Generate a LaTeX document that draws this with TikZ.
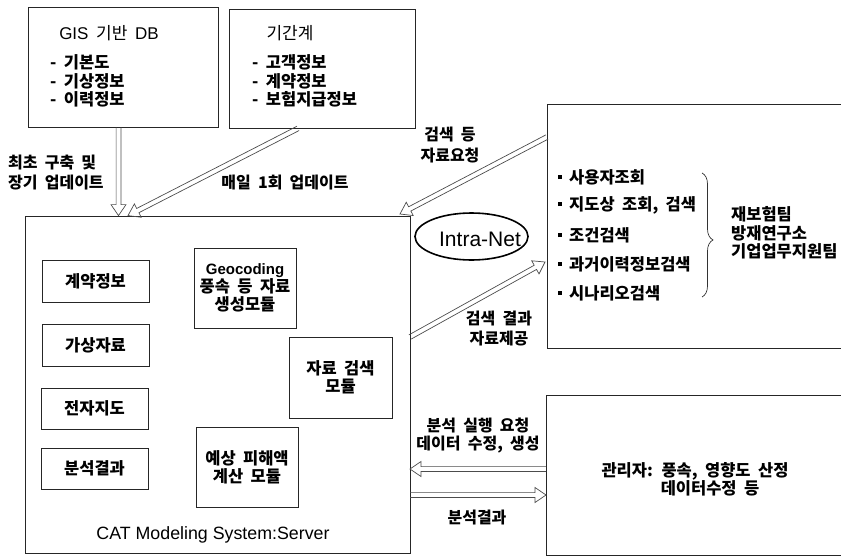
\documentclass[tikz,border=0pt]{standalone}
\usepackage{fontspec}
\setmainfont{Noto Sans CJK KR}
\newfontfamily\ar{Liberation Sans}
\usetikzlibrary{arrows.meta,shapes.geometric,decorations.pathreplacing,calc}
\newcommand{\widesp}{\spaceskip=0.45em plus 0.1em\relax}
\tikzset{
  box/.style={draw=black!85, line width=0.8pt, rectangle, inner sep=0pt},
  kt/.style={font=\fontsize{16.5}{18}\selectfont\bfseries, align=center, inner sep=0pt, execute at begin node=\widesp},
  kr/.style={font=\fontsize{17}{18}\selectfont, align=center, inner sep=0pt, execute at begin node=\widesp},
  lbl/.style={font=\fontsize{16}{20}\selectfont\bfseries, align=center, inner sep=0pt, execute at begin node=\widesp},
  arrline/.style={draw=black!70, line width=0.7pt, line join=miter},
  bul/.style={kt, anchor=west}
}
% hollow double-line arrow from #1 to #2
\newcommand{\dblarr}[2]{%
  \coordinate (dA) at (#1);
  \coordinate (dB) at (#2);
  \coordinate (dH) at ($(dB)!11pt!(dA)$);
  \draw[arrline] ($(dA)!2.4pt!90:(dB)$) -- ($(dH)!2.4pt!-90:(dA)$) -- ($(dH)!7.5pt!-90:(dA)$) -- (dB)
     -- ($(dH)!7.5pt!90:(dA)$) -- ($(dH)!2.4pt!90:(dA)$) -- ($(dA)!2.4pt!-90:(dB)$);
}
\newcommand{\sqb}{\rule[4pt]{4pt}{4pt}\hspace{7pt}}
\begin{document}
\begin{tikzpicture}[x=1pt,y=-1pt]
\useasboundingbox (0,0) rectangle (841,557);
% top boxes
\node[box, minimum width=190pt, minimum height=120pt] (gis) at (123,67) {};
\node[kr] (gist) at (109,33) {{\ar GIS} 기반 {\ar DB}};
\node[kt, anchor=west] (g1) at (50,62) {- 기본도};
\node[kt, anchor=west] (g2) at (50,81) {- 기상정보};
\node[kt, anchor=west] (g3) at (50,99) {- 이력정보};
\node[box, minimum width=186pt, minimum height=119pt] (kig) at (322,68.5) {};
\node[kr] (kigt) at (290,33) {기간계};
\node[kt, anchor=west] (k1) at (252,62) {- 고객정보};
\node[kt, anchor=west] (k2) at (252,81) {- 계약정보};
\node[kt, anchor=west] (k3) at (252,99) {- 보험지급정보};
% server
\node[box, minimum width=385pt, minimum height=337pt] (server) at (217.5,384.5) {};
\node[font=\ar\fontsize{17.8}{20}\selectfont, inner sep=0pt] (srvl) at (213,535) {CAT Modeling System:Server};
\node[box, kt, minimum width=107pt, minimum height=42pt] (c1) at (95.5,281) {계약정보};
\node[box, kt, minimum width=107pt, minimum height=42pt] (c2) at (95.5,345) {가상자료};
\node[box, kt, minimum width=107pt, minimum height=41pt] (c3) at (94.5,408.5) {전자지도};
\node[box, kt, minimum width=107pt, minimum height=41pt] (c4) at (94.5,468.5) {분석결과};
\node[box, kt, minimum width=102pt, minimum height=80pt] (geo) at (245,288) {{\ar\fontsize{15}{18}\selectfont Geocoding}\\풍속 등 자료\\생성모듈};
\node[box, kt, minimum width=103pt, minimum height=81pt] (srch) at (340.5,377.5) {자료 검색\\모듈};
\node[box, kt, minimum width=102pt, minimum height=80pt] (dmg) at (247,467) {예상 피해액\\계산 모듈};
% intranet
\node[draw=black, line width=1.6pt, ellipse, minimum width=113pt, minimum height=47pt, inner sep=0pt] (net) at (471.5,236.5) {};
\node[font=\ar\fontsize{21}{24}\selectfont, inner sep=0pt] (nett) at (480,239) {Intra-Net};
% right boxes (open to the right)
\coordinate (rt1) at (845,104);
\coordinate (rt2) at (547,104);
\coordinate (rt3) at (547,348);
\coordinate (rt4) at (845,348);
\draw[draw=black!85, line width=0.8pt] (rt1) -- (rt2) -- (rt3) -- (rt4);
\coordinate (ad1) at (845,395);
\coordinate (ad2) at (546,395);
\coordinate (ad3) at (546,555);
\coordinate (ad4) at (845,555);
\draw[draw=black!85, line width=0.8pt] (ad1) -- (ad2) -- (ad3) -- (ad4);
\node[bul] (b1) at (558,177) {\sqb 사용자조회};
\node[bul] (b2) at (558,205) {\sqb 지도상 조회, 검색};
\node[bul] (b3) at (558,235) {\sqb 조건검색};
\node[bul] (b4) at (558,264) {\sqb 과거이력정보검색};
\node[bul] (b5) at (558,293) {\sqb 시나리오검색};
\coordinate (brt) at (702,173);
\coordinate (brb) at (702,297);
\draw[black!80, line width=0.7pt, decorate, decoration={brace, amplitude=11pt, aspect=0.54}] (brt) -- (brb);
\node[kt, anchor=west, align=left, font=\fontsize{16.5}{18.5}\selectfont\bfseries] (team) at (731,233) {재보험팀\\방재연구소\\기업업무지원팀};
\node[kt] (adm1) at (695,471) {관리자: 풍속, 영향도 산정};
\node[kt] (adm2) at (710,488) {데이터수정 등};
% labels
\node[lbl, anchor=west, align=left] (l1) at (8,173) {최초 구축 및\\장기 업데이트};
\node[lbl] (l2) at (285,183) {매일 1회 업데이트};
\node[lbl, font=\fontsize{16}{21}\selectfont\bfseries] (l3) at (450,145) {검색 등\\자료요청};
\node[lbl] (l4) at (499,329) {검색 결과\\자료제공};
\node[lbl, font=\fontsize{16}{18}\selectfont\bfseries] (l5) at (478,436) {분석 실행 요청\\데이터 수정, 생성};
\node[lbl] (l6) at (477,518) {분석결과};
% connector end points
\coordinate (q1) at (547,137);
\coordinate (q2) at (400,214);
\coordinate (r1) at (410,337);
\coordinate (r2) at (545,262);
\coordinate (a1) at (546,469);
\coordinate (a2) at (410,469);
\coordinate (a3) at (410,495);
\coordinate (a4) at (546,495);
% arrows
\dblarr{[xshift=-4.5pt]gis.south}{[xshift=-4.5pt]gis.south |- server.north}
\dblarr{[xshift=-24pt]kig.south}{[xshift=-89.5pt]server.north}
\dblarr{q1}{q2}
\dblarr{r1}{r2}
\dblarr{a1}{a2}
\dblarr{a3}{a4}
\end{tikzpicture}
\end{document}
